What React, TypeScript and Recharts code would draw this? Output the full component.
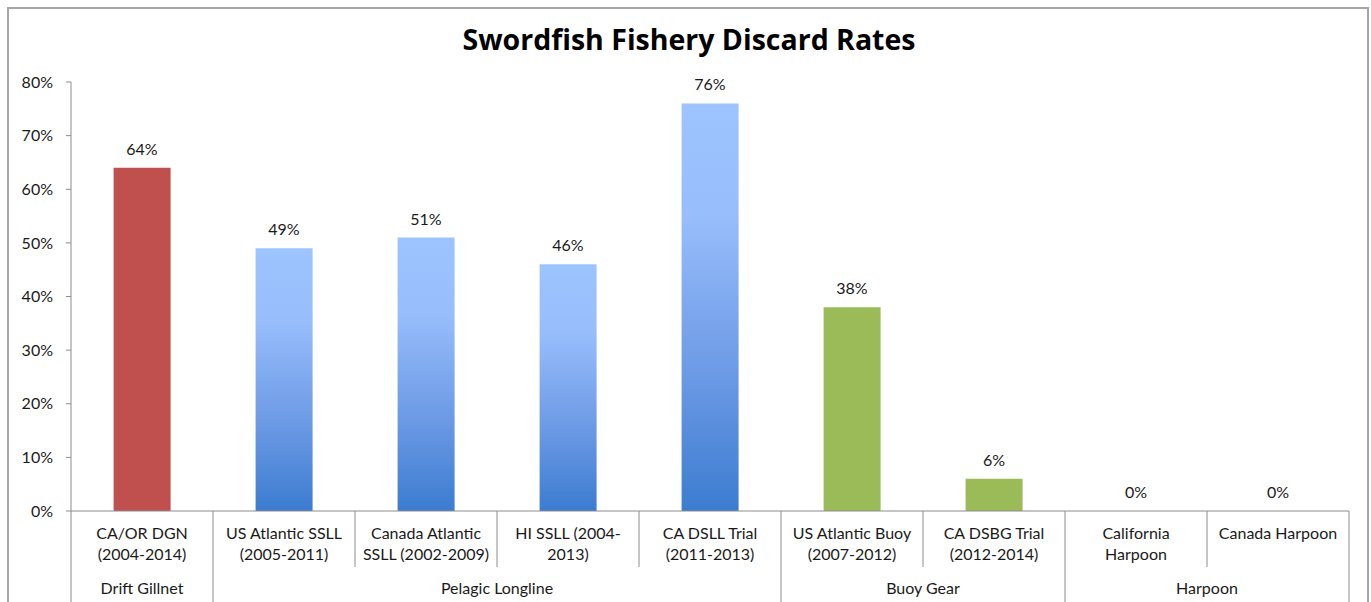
import React from "react";
import { ComposedChart, Bar, Line, XAxis, YAxis, Cell, LabelList } from "recharts";

// ---- data ----
const categoryLines: string[][] = [
  ["CA/OR DGN", "(2004-2014)"],
  ["US Atlantic SSLL", "(2005-2011)"],
  ["Canada Atlantic", "SSLL (2002-2009)"],
  ["HI SSLL (2004-", "2013)"],
  ["CA DSLL Trial", "(2011-2013)"],
  ["US Atlantic Buoy", "(2007-2012)"],
  ["CA DSBG Trial", "(2012-2014)"],
  ["California", "Harpoon"],
  ["Canada Harpoon"],
];
const discardRates = [64, 49, 51, 46, 76, 38, 6, 0, 0];
const gearGroups = [
  "Drift Gillnet",
  "Pelagic Longline",
  "Pelagic Longline",
  "Pelagic Longline",
  "Pelagic Longline",
  "Buoy Gear",
  "Buoy Gear",
  "Harpoon",
  "Harpoon",
];
const yTicks = [0, 10, 20, 30, 40, 50, 60, 70, 80];

// ---- styles ----
const groupFill: Record<string, string> = {
  "Drift Gillnet": "#C0504D",
  "Pelagic Longline": "url(#blueGrad)",
  "Buoy Gear": "#9BBB59",
  Harpoon: "#4F81BD",
};
const FONT = "Lato, 'Open Sans', sans-serif";
const TEXT = "#1a1a1a";
const AXIS = "#8c8c8c";

const data = categoryLines.map((lines, i) => ({
  key: lines.join(" "),
  index: i,
  value: discardRates[i],
  group: gearGroups[i],
}));

function XTick(props: any) {
  const { x, y, payload, index } = props;
  const i: number = payload?.index ?? index;
  let half: number = payload?.offset;
  if (!half) {
    if (props.width && props.visibleTicksCount) half = props.width / props.visibleTicksCount / 2;
    else half = 71;
  }
  const lines = categoryLines[i];
  const group = gearGroups[i];
  const isGroupStart = i === 0 || gearGroups[i - 1] !== group;
  const isLast = i === categoryLines.length - 1;
  let groupCount = 0;
  if (isGroupStart) {
    for (let k = i; k < gearGroups.length && gearGroups[k] === group; k++) groupCount++;
  }
  const leftX = x - half;
  const rightX = x + half;
  const groupCenter = leftX + groupCount * half;
  return (
    <g>
      <line x1={leftX} x2={leftX} y1={y} y2={isGroupStart ? y + 91 : y + 56} stroke={AXIS} strokeWidth={1} />
      {isLast && <line x1={rightX} x2={rightX} y1={y} y2={y + 91} stroke={AXIS} strokeWidth={1} />}
      {lines.map((t, li) => (
        <text key={li} x={x} y={y + 28 + li * 21} textAnchor="middle" fontSize={16} fill={TEXT} fontFamily={FONT}>
          {t}
        </text>
      ))}
      {isGroupStart && (
        <text x={groupCenter} y={y + 83} textAnchor="middle" fontSize={16} fill={TEXT} fontFamily={FONT}>
          {group}
        </text>
      )}
    </g>
  );
}

export default function App() {
  return (
    <div
      style={{
        position: "absolute",
        left: 0,
        top: 0,
        width: 1371,
        height: 602,
        overflow: "hidden",
        background: "#fff",
        fontFamily: FONT,
      }}
    >
      <div
        style={{
          position: "absolute",
          left: 7,
          top: 7,
          width: 1362,
          height: 700,
          border: "2px solid #a6a6a6",
          boxSizing: "border-box",
        }}
      />
      <div
        style={{
          position: "absolute",
          left: 0,
          width: 1378,
          top: 21,
          textAlign: "center",
          fontSize: 28.5,
          fontWeight: 700,
          color: "#000",
          fontFamily: "'Open Sans', sans-serif",
          lineHeight: "36px",
          whiteSpace: "nowrap",
        }}
      >
        Swordfish Fishery Discard Rates
      </div>
      <div style={{ position: "absolute", left: 0, top: 0 }}>
        <ComposedChart
          width={1371}
          height={602}
          data={data}
          margin={{ top: 82, right: 22, bottom: 0, left: 11 }}
          barCategoryGap="30%"
        >
          <defs>
            <linearGradient id="blueGrad" x1="0" y1="0" x2="0" y2="1">
              <stop offset="0%" stopColor="#9EC4FF" />
              <stop offset="28%" stopColor="#97BDFB" />
              <stop offset="65%" stopColor="#6E9BE6" />
              <stop offset="100%" stopColor="#3C7CD0" />
            </linearGradient>
          </defs>
          <XAxis
            dataKey="key"
            height={91}
            interval={0}
            tickLine={false}
            tickSize={0}
            tickMargin={0}
            axisLine={{ stroke: AXIS, strokeWidth: 1 }}
            tick={<XTick />}
          />
          <YAxis
            width={60}
            domain={[0, 80]}
            ticks={yTicks}
            interval={0}
            tickSize={5}
            tickMargin={13}
            tickFormatter={(v: number) => `${v}%`}
            axisLine={{ stroke: AXIS, strokeWidth: 1 }}
            tickLine={{ stroke: AXIS, strokeWidth: 1 }}
            tick={{ fontSize: 16, fill: TEXT, fontFamily: FONT }}
          />
          <Bar dataKey="value" isAnimationActive={false}>
            {data.map((d) => (
              <Cell key={d.key} fill={groupFill[d.group]} />
            ))}
          </Bar>
          <Line
            dataKey="value"
            stroke="none"
            dot={false}
            activeDot={false}
            legendType="none"
            isAnimationActive={false}
          >
            <LabelList
              dataKey="value"
              position="top"
              offset={13}
              formatter={(v: number) => `${v}%`}
              style={{ fontSize: 16, fill: TEXT, fontFamily: FONT }}
            />
          </Line>
        </ComposedChart>
      </div>
    </div>
  );
}
